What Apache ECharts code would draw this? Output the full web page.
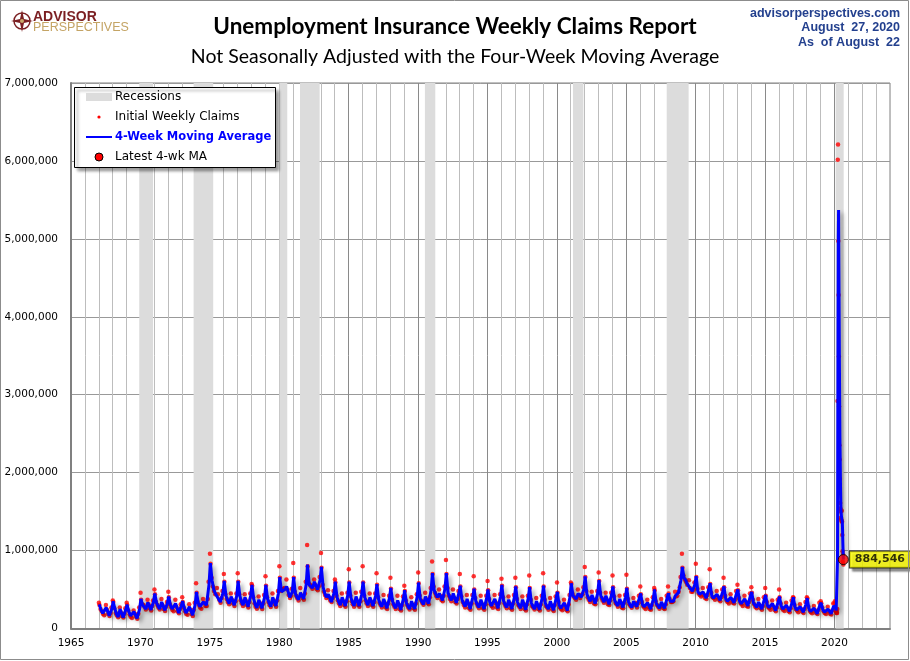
<!DOCTYPE html>
<html>
<head>
<meta charset="utf-8">
<title>Unemployment Insurance Weekly Claims Report</title>
<script src="https://cdn.jsdelivr.net/npm/echarts@6/dist/echarts.min.js"></script>
<style>
  html, body { margin: 0; padding: 0; background: #fff; }
  #chart { width: 910px; height: 661px; }
</style>
</head>
<body>
<div id="chart"></div>
<script>
// recession bands (start, end)
const recessions = [
  ["1969-12-01", "1970-11-30"],
  ["1973-11-01", "1975-03-31"],
  ["1980-01-01", "1980-07-31"],
  ["1981-07-01", "1982-11-30"],
  ["1990-07-01", "1991-03-31"],
  ["2001-03-01", "2001-11-30"],
  ["2007-12-01", "2009-06-30"],
  ["2020-02-01", "2020-08-31"]
];

// 4-week moving average, thousands, read at these points of each year
const maDates = ["01-15", "03-01", "04-15", "05-25", "07-15", "10-05", "12-10"];
const maRows = [
  [1967, 310, 240, 195, 175, 270, 165, 250],
  [1968, 350, 250, 180, 150, 250, 140, 240],
  [1969, 305, 220, 165, 140, 215, 130, 250],
  [1970, 380, 300, 290, 250, 335, 240, 340],
  [1971, 450, 330, 280, 250, 340, 235, 320],
  [1972, 410, 300, 250, 225, 320, 200, 290],
  [1973, 350, 260, 200, 180, 280, 170, 300],
  [1974, 470, 330, 280, 260, 340, 300, 560],
  [1975, 840, 620, 500, 450, 470, 340, 450],
  [1976, 610, 420, 360, 320, 410, 300, 420],
  [1977, 610, 420, 340, 300, 400, 280, 420],
  [1978, 560, 380, 300, 265, 370, 260, 400],
  [1979, 560, 380, 320, 280, 400, 290, 450],
  [1980, 660, 470, 480, 500, 540, 400, 470],
  [1981, 660, 450, 400, 370, 460, 380, 560],
  [1982, 820, 560, 540, 520, 600, 500, 620],
  [1983, 790, 530, 450, 400, 440, 340, 450],
  [1984, 600, 400, 340, 300, 400, 290, 430],
  [1985, 600, 400, 330, 290, 410, 290, 440],
  [1986, 600, 400, 340, 300, 400, 290, 420],
  [1987, 570, 370, 310, 280, 380, 260, 390],
  [1988, 520, 350, 290, 260, 360, 240, 380],
  [1989, 490, 330, 280, 250, 350, 250, 410],
  [1990, 590, 380, 340, 310, 410, 320, 490],
  [1991, 710, 490, 440, 400, 450, 360, 510],
  [1992, 710, 460, 400, 360, 450, 330, 450],
  [1993, 550, 370, 320, 280, 380, 250, 400],
  [1994, 510, 350, 300, 270, 370, 250, 390],
  [1995, 500, 340, 290, 270, 380, 260, 410],
  [1996, 560, 350, 300, 270, 370, 250, 400],
  [1997, 540, 340, 290, 260, 370, 240, 390],
  [1998, 530, 330, 280, 250, 350, 240, 390],
  [1999, 550, 330, 280, 250, 350, 235, 380],
  [2000, 470, 300, 260, 240, 330, 230, 400],
  [2001, 580, 420, 400, 380, 450, 400, 500],
  [2002, 670, 440, 390, 350, 430, 320, 450],
  [2003, 620, 420, 380, 340, 420, 310, 430],
  [2004, 540, 360, 320, 290, 380, 270, 400],
  [2005, 520, 340, 300, 270, 350, 280, 390],
  [2006, 450, 310, 280, 260, 330, 250, 370],
  [2007, 500, 320, 290, 260, 340, 260, 390],
  [2008, 450, 350, 330, 350, 420, 460, 620],
  [2009, 790, 650, 620, 570, 560, 480, 560],
  [2010, 670, 470, 440, 420, 470, 390, 500],
  [2011, 580, 420, 390, 380, 440, 360, 470],
  [2012, 540, 380, 350, 330, 400, 330, 450],
  [2013, 500, 350, 320, 300, 380, 290, 420],
  [2014, 470, 330, 300, 270, 340, 250, 370],
  [2015, 430, 300, 270, 250, 320, 230, 340],
  [2016, 410, 290, 250, 230, 300, 220, 330],
  [2017, 400, 270, 240, 220, 280, 210, 310],
  [2018, 390, 250, 220, 200, 260, 190, 300],
  [2019, 330, 240, 210, 190, 250, 190, 290]
];

// initial weekly claims, thousands, a dozen weeks of each year
const claimDates = ["01-05", "01-19", "02-15", "03-22", "04-19", "05-24",
  "07-08", "08-02", "09-06", "10-11", "11-08", "11-29"];
const claimRows = [
  [1967, 330, 300, 250, 220, 190, 170, 300, 240, 190, 160, 200, 270],
  [1968, 360, 340, 260, 200, 170, 145, 270, 210, 160, 140, 190, 260],
  [1969, 330, 300, 230, 180, 150, 135, 230, 190, 150, 125, 190, 270],
  [1970, 460, 370, 310, 300, 280, 245, 370, 310, 260, 230, 290, 360],
  [1971, 500, 440, 340, 300, 270, 245, 380, 300, 250, 225, 280, 340],
  [1972, 470, 400, 310, 270, 240, 220, 370, 280, 220, 195, 250, 310],
  [1973, 400, 340, 270, 220, 190, 175, 310, 240, 185, 160, 240, 330],
  [1974, 580, 460, 340, 300, 270, 255, 380, 330, 290, 290, 380, 600],
  [1975, 960, 830, 650, 540, 480, 440, 520, 440, 370, 330, 390, 480],
  [1976, 700, 600, 440, 380, 340, 310, 450, 370, 320, 290, 350, 450],
  [1977, 710, 600, 440, 360, 320, 290, 440, 360, 300, 270, 340, 450],
  [1978, 570, 550, 400, 320, 280, 255, 410, 330, 280, 250, 320, 430],
  [1979, 670, 550, 400, 340, 300, 275, 450, 360, 310, 280, 360, 480],
  [1980, 800, 650, 480, 500, 510, 520, 630, 500, 430, 390, 420, 510],
  [1981, 840, 650, 470, 420, 390, 360, 520, 420, 390, 370, 450, 600],
  [1982, 1070, 800, 580, 560, 540, 510, 630, 560, 510, 490, 540, 660],
  [1983, 970, 780, 560, 470, 430, 390, 490, 400, 360, 340, 390, 480],
  [1984, 630, 590, 420, 360, 320, 290, 450, 350, 300, 280, 350, 460],
  [1985, 760, 590, 420, 350, 310, 280, 460, 350, 300, 280, 350, 470],
  [1986, 800, 590, 420, 360, 320, 290, 450, 350, 300, 280, 340, 450],
  [1987, 710, 560, 400, 330, 300, 270, 430, 320, 270, 250, 320, 420],
  [1988, 650, 510, 370, 310, 280, 250, 420, 300, 250, 230, 300, 410],
  [1989, 550, 480, 360, 300, 270, 245, 400, 300, 260, 240, 320, 440],
  [1990, 720, 580, 420, 360, 330, 305, 460, 370, 330, 310, 400, 520],
  [1991, 860, 700, 540, 460, 420, 390, 500, 420, 370, 350, 420, 540],
  [1992, 880, 700, 520, 420, 380, 350, 500, 390, 340, 320, 380, 480],
  [1993, 700, 540, 410, 340, 300, 270, 430, 320, 260, 240, 320, 430],
  [1994, 670, 500, 390, 320, 290, 260, 420, 310, 260, 240, 310, 420],
  [1995, 610, 490, 380, 310, 290, 265, 430, 320, 270, 250, 330, 440],
  [1996, 640, 550, 400, 320, 290, 260, 410, 310, 260, 240, 320, 430],
  [1997, 650, 530, 380, 300, 280, 250, 410, 300, 250, 230, 310, 420],
  [1998, 680, 520, 370, 290, 270, 245, 390, 290, 250, 230, 310, 420],
  [1999, 710, 540, 370, 290, 270, 240, 390, 290, 245, 225, 300, 410],
  [2000, 590, 460, 340, 270, 250, 235, 370, 280, 240, 220, 310, 430],
  [2001, 590, 570, 450, 410, 390, 370, 500, 420, 390, 430, 440, 530],
  [2002, 790, 660, 480, 400, 370, 340, 470, 370, 320, 310, 370, 480],
  [2003, 720, 610, 460, 390, 360, 330, 460, 360, 310, 300, 360, 460],
  [2004, 680, 530, 410, 330, 310, 280, 420, 320, 270, 260, 330, 430],
  [2005, 690, 510, 380, 310, 290, 265, 390, 300, 330, 270, 320, 420],
  [2006, 540, 440, 340, 290, 270, 250, 370, 280, 250, 240, 300, 400],
  [2007, 520, 490, 350, 300, 280, 255, 380, 290, 260, 250, 310, 420],
  [2008, 540, 450, 380, 340, 340, 350, 470, 410, 420, 470, 530, 660],
  [2009, 960, 780, 680, 630, 600, 560, 620, 520, 470, 470, 500, 590],
  [2010, 830, 660, 510, 450, 430, 410, 520, 430, 390, 380, 430, 530],
  [2011, 760, 570, 460, 400, 390, 370, 480, 400, 370, 350, 400, 500],
  [2012, 650, 530, 420, 360, 340, 320, 440, 360, 330, 320, 370, 480],
  [2013, 560, 490, 390, 330, 310, 290, 420, 330, 290, 280, 340, 450],
  [2014, 530, 460, 370, 310, 280, 260, 380, 300, 260, 240, 290, 400],
  [2015, 520, 420, 340, 280, 260, 240, 360, 280, 240, 220, 270, 370],
  [2016, 500, 400, 320, 260, 240, 225, 330, 260, 225, 210, 260, 360],
  [2017, 400, 395, 300, 250, 230, 210, 310, 250, 215, 200, 250, 340],
  [2018, 400, 385, 280, 230, 210, 195, 290, 230, 200, 185, 240, 330],
  [2019, 350, 325, 270, 220, 200, 185, 280, 220, 190, 180, 230, 320]
];

// 2020 week by week, thousands
const weeks2020 = ["01-04", "01-11", "01-18", "01-25", "02-01", "02-08", "02-15", "02-22", "02-29",
  "03-07", "03-14", "03-21", "03-28", "04-04", "04-11", "04-18", "04-25", "05-02", "05-09",
  "05-16", "05-23", "05-30", "06-06", "06-13", "06-20", "06-27", "07-04", "07-11", "07-18",
  "07-25", "08-01", "08-08", "08-15", "08-22"];
const claims2020 = [320, 350, 260, 250, 230, 230, 220, 205, 200,
  200, 250, 2920, 6015, 6211, 4971, 4281, 3489, 2850, 2350,
  2170, 1920, 1610, 1540, 1500, 1420, 1400, 1380, 1510, 1370,
  1200, 990, 860, 950, 820];
const ma2020 = [290, 310, 300, 290, 270, 245, 230, 220, 215,
  210, 215, 890, 2345, 3850, 5030, 5370, 4740, 4150, 3490,
  2960, 2460, 2210, 1900, 1700, 1520, 1470, 1430, 1450, 1420,
  1370, 1270, 1110, 990, 884.546];

const latestDate = "2020-08-22";
const latestMA = 884546;

function decYear(s) {
  const [y, m, d] = s.split("-").map(Number);
  const t0 = Date.UTC(y, 0, 1), t1 = Date.UTC(y + 1, 0, 1);
  return y + (Date.UTC(y, m - 1, d) - t0) / (t1 - t0);
}

const maData = [];
maRows.forEach(r => maDates.forEach((md, i) => maData.push([decYear(r[0] + "-" + md), r[i + 1] * 1000])));
weeks2020.forEach((md, i) => maData.push([decYear("2020-" + md), ma2020[i] * 1000]));

const claimData = [];
claimRows.forEach(r => claimDates.forEach((md, i) => claimData.push([decYear(r[0] + "-" + md), r[i + 1] * 1000])));
weeks2020.forEach((md, i) => claimData.push([decYear("2020-" + md), claims2020[i] * 1000]));

const tickFont = "DejaVu Sans";
const chart = echarts.init(document.getElementById("chart"));

chart.setOption({
  animation: false,
  backgroundColor: "#fff",
  title: [
    {
      text: "Unemployment Insurance Weekly Claims Report",
      left: "center", top: 10,
      textStyle: { fontFamily: "Lato", fontWeight: "bold", fontSize: 22.5, color: "#000" }
    },
    {
      text: "Not Seasonally Adjusted with the Four-Week Moving Average",
      left: "center", top: 42,
      textStyle: { fontFamily: "Lato", fontWeight: "normal", fontSize: 19.5, color: "#000" }
    }
  ],
  grid: {
    left: 71, right: 20, top: 83, bottom: 32.5,
    show: true, borderColor: "#808080", borderWidth: 1
  },
  xAxis: {
    type: "value", min: 1965, max: 2024, interval: 1,
    axisLine: { show: true, lineStyle: { color: "#808080", width: 2 } },
    axisTick: { show: false },
    axisLabel: {
      color: "#000", fontFamily: tickFont, fontSize: 10.5, margin: 9,
      formatter: v => (v % 5 === 0 ? String(v) : "")
    },
    splitLine: { show: true, lineStyle: { color: ["#8a8a8a", "#bdbdbd", "#bdbdbd", "#bdbdbd", "#bdbdbd"], width: 1 } }
  },
  yAxis: {
    type: "value", min: 0, max: 7000000, interval: 1000000,
    axisLine: { show: true, lineStyle: { color: "#808080", width: 2 } },
    axisTick: { show: false },
    axisLabel: {
      color: "#000", fontFamily: tickFont, fontSize: 10.5, margin: 13,
      formatter: v => v.toLocaleString("en-US")
    },
    splitLine: { show: true, lineStyle: { color: "#999", width: 1 } }
  },
  series: [
    {
      name: "Recessions",
      type: "line",
      data: [],
      z: 1,
      markArea: {
        silent: true,
        itemStyle: { color: "#dcdcdc" },
        data: recessions.map(r => [{ xAxis: decYear(r[0]) }, { xAxis: decYear(r[1]) }])
      }
    },
    {
      name: "Initial Weekly Claims",
      type: "scatter",
      data: claimData,
      symbolSize: 4.5,
      itemStyle: { color: "#ff0000" },
      z: 3
    },
    {
      name: "4-Week Moving Average",
      type: "line",
      data: maData,
      showSymbol: false,
      lineStyle: {
        color: "#0000ff", width: 3,
        shadowColor: "rgba(0,0,0,0.35)", shadowBlur: 4, shadowOffsetX: 3, shadowOffsetY: 3
      },
      z: 4
    },
    {
      name: "Latest 4-wk MA",
      type: "scatter",
      data: [[decYear(latestDate), latestMA]],
      symbolSize: 10,
      itemStyle: { color: "#ff0000", borderColor: "#000", borderWidth: 1 },
      label: {
        show: true, position: "right", distance: 1,
        formatter: p => p.value[1].toLocaleString("en-US"),
        fontFamily: tickFont, fontWeight: "bold", fontSize: 11, color: "#000",
        backgroundColor: "#ffff00", borderColor: "#000", borderWidth: 1,
        padding: [3, 5, 2, 5],
        shadowColor: "rgba(0,0,0,0.45)", shadowBlur: 2, shadowOffsetX: 3, shadowOffsetY: 3
      },
      z: 6
    }
  ],
  graphic: [
    // outer frame
    { type: "rect", shape: { x: 0.5, y: 0.5, width: 908, height: 659 }, style: { fill: "none", stroke: "#8c8c8c", lineWidth: 1 }, z: 100 },
    // logo
    { type: "circle", shape: { cx: 22, cy: 21, r: 8 }, style: { fill: "none", stroke: "#7b1f22", lineWidth: 1.5 }, z: 100 },
    { type: "polygon", shape: { points: [[22, 10], [24, 19], [33, 21], [24, 23], [22, 32], [20, 23], [11, 21], [20, 19]] }, style: { fill: "#7b1f22" }, z: 100 },
    { type: "circle", shape: { cx: 22, cy: 21, r: 2 }, style: { fill: "#c9a86a" }, z: 101 },
    { type: "text", x: 33, y: 17, style: { text: "ADVISOR", font: "bold 14px 'Liberation Sans'", fill: "#7b1f22", textVerticalAlign: "middle" }, z: 100 },
    { type: "text", x: 33, y: 27.5, style: { text: "PERSPECTIVES", font: "12.5px 'Liberation Sans'", fill: "#c4a465", textVerticalAlign: "middle" }, z: 100 },
    // top right
    { type: "text", x: 900, y: 14, style: { text: "advisorperspectives.com", font: "bold 12.5px 'Liberation Sans'", fill: "#23408e", textAlign: "right", textVerticalAlign: "middle" }, z: 100 },
    { type: "text", x: 900, y: 28, style: { text: "August  27, 2020", font: "bold 12.5px 'Liberation Sans'", fill: "#23408e", textAlign: "right", textVerticalAlign: "middle" }, z: 100 },
    { type: "text", x: 900, y: 43, style: { text: "As  of August  22", font: "bold 12.5px 'Liberation Sans'", fill: "#23408e", textAlign: "right", textVerticalAlign: "middle" }, z: 100 },
    // legend
    { type: "rect", shape: { x: 74.5, y: 87.5, width: 201, height: 80 }, style: { fill: "#fff", stroke: "#000", lineWidth: 1, shadowColor: "rgba(0,0,0,0.4)", shadowBlur: 3, shadowOffsetX: 3, shadowOffsetY: 3 }, z: 100 },
    { type: "rect", shape: { x: 86, y: 93, width: 26, height: 8 }, style: { fill: "#dcdcdc" }, z: 101 },
    { type: "text", x: 115, y: 97, style: { text: "Recessions", font: "12px 'DejaVu Sans'", fill: "#000", textVerticalAlign: "middle" }, z: 101 },
    { type: "circle", shape: { cx: 99, cy: 117, r: 1.6 }, style: { fill: "#ff0000" }, z: 101 },
    { type: "text", x: 115, y: 117, style: { text: "Initial Weekly Claims", font: "12px 'DejaVu Sans'", fill: "#000", textVerticalAlign: "middle" }, z: 101 },
    { type: "line", shape: { x1: 86, y1: 137, x2: 112, y2: 137 }, style: { stroke: "#0000ff", lineWidth: 2 }, z: 101 },
    { type: "text", x: 115, y: 137, style: { text: "4-Week Moving Average", font: "bold 11.5px 'DejaVu Sans'", fill: "#0000ff", textVerticalAlign: "middle" }, z: 101 },
    { type: "circle", shape: { cx: 99, cy: 157, r: 4 }, style: { fill: "#ff0000", stroke: "#000", lineWidth: 1 }, z: 101 },
    { type: "text", x: 115, y: 157, style: { text: "Latest 4-wk MA", font: "12px 'DejaVu Sans'", fill: "#000", textVerticalAlign: "middle" }, z: 101 }
  ]
});
</script>
</body>
</html>
